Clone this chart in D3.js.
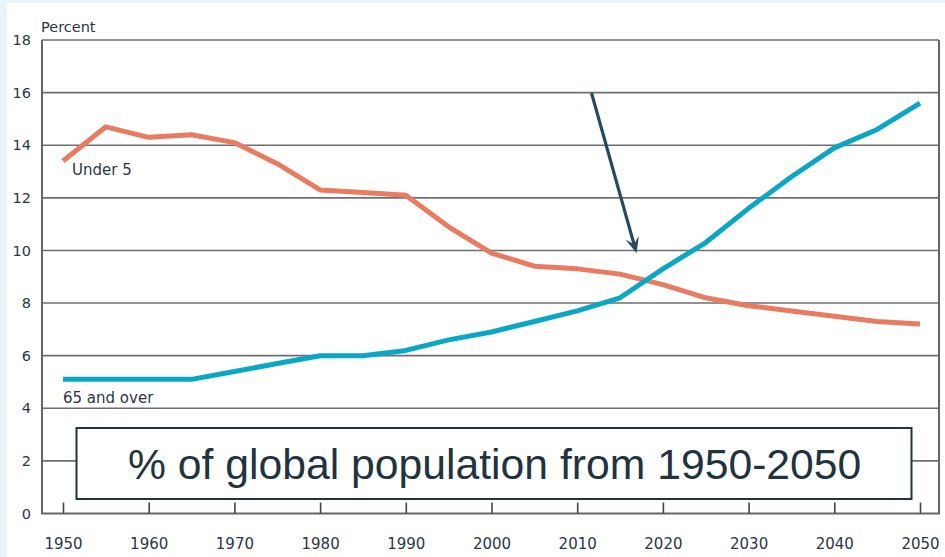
<!DOCTYPE html>
<html>
<head>
<meta charset="utf-8">
<script src="https://cdn.jsdelivr.net/npm/d3@7"></script>
<style>
  html, body { margin: 0; padding: 0; background: #ffffff; }
  svg { display: block; }
</style>
</head>
<body>
<svg id="chart" width="945" height="557"></svg>
<script>
// Years sampled every five years
const years = [1950, 1955, 1960, 1965, 1970, 1975, 1980, 1985, 1990, 1995, 2000,
               2005, 2010, 2015, 2020, 2025, 2030, 2035, 2040, 2045, 2050];
// Share of global population (percent)
const under5 = [13.4, 14.7, 14.3, 14.4, 14.1, 13.3, 12.3, 12.2, 12.1, 10.9, 9.9,
                9.4, 9.3, 9.1, 8.7, 8.2, 7.9, 7.7, 7.5, 7.3, 7.2];
const over65 = [5.1, 5.1, 5.1, 5.1, 5.4, 5.7, 6.0, 6.0, 6.2, 6.6, 6.9,
                7.3, 7.7, 8.2, 9.3, 10.3, 11.6, 12.8, 13.9, 14.6, 15.6];
const xTicks = [1950, 1960, 1970, 1980, 1990, 2000, 2010, 2020, 2030, 2040, 2050];
const yTicks = [0, 2, 4, 6, 8, 10, 12, 14, 16, 18];
const seriesNames = ["Under 5", "65 and over"];
const title = "% of global population from 1950-2050";

const svg = d3.select("#chart");
const W = 945, H = 557;

// page background with a pale band on the top and left
svg.append("rect").attr("width", W).attr("height", H).attr("fill", "#e9f4fa");
svg.append("rect").attr("x", 7).attr("y", 3).attr("width", W - 7).attr("height", H - 3).attr("fill", "#ffffff");

const plot = { left: 42, right: 939, top: 40, bottom: 513.5 };
const x = d3.scaleLinear().domain([1950, 2050]).range([63, 920]);
const y = d3.scaleLinear().domain([0, 18]).range([plot.bottom, plot.top]);

const textColor = "#2b3744";
const labelFont = "'DejaVu Sans', Verdana, sans-serif";

// horizontal grid lines
svg.append("g").selectAll("line")
  .data(yTicks.filter(d => d > 0))
  .join("line")
  .attr("x1", plot.left).attr("x2", plot.right)
  .attr("y1", d => y(d)).attr("y2", d => y(d))
  .attr("stroke", "#6f6f6f").attr("stroke-width", 1.6);

// frame: left, bottom, right
const frame = svg.append("g").attr("stroke", "#666").attr("stroke-width", 2).attr("fill", "none");
frame.append("path").attr("d", `M${plot.left},${plot.top}V${plot.bottom}H${plot.right}V${plot.top}`);

// y axis labels
const yAxis = d3.axisLeft(y).tickValues(yTicks).tickSize(0).tickPadding(0);
const gy = svg.append("g").attr("transform", "translate(31,0)").call(yAxis);
gy.select(".domain").remove();
gy.selectAll("text")
  .attr("font-family", labelFont).attr("font-size", 14.5)
  .attr("fill", textColor).attr("x", 0);

// x axis: short upward ticks and year labels
const gx = svg.append("g").attr("transform", `translate(0,${plot.bottom})`)
  .call(d3.axisBottom(x).tickValues(xTicks).tickFormat(d3.format("d")).tickSize(-11).tickPadding(0));
gx.select(".domain").remove();
gx.selectAll(".tick line").attr("stroke", "#444").attr("stroke-width", 1.6);
gx.selectAll("text")
  .attr("font-family", labelFont).attr("font-size", 15)
  .attr("fill", textColor).attr("y", 25);

// "Percent" unit label
svg.append("text").attr("x", 41).attr("y", 31.5)
  .attr("font-family", labelFont).attr("font-size", 14.5)
  .attr("fill", textColor).text("Percent");

// series lines
const line = d3.line().x((d, i) => x(years[i])).y(d => y(d));
svg.append("path").datum(under5)
  .attr("d", line).attr("fill", "none")
  .attr("stroke", "#e87b60").attr("stroke-width", 5).attr("stroke-linejoin", "round");
svg.append("path").datum(over65)
  .attr("d", line).attr("fill", "none")
  .attr("stroke", "#0aa6c5").attr("stroke-width", 5).attr("stroke-linejoin", "round");

// series labels
svg.append("text").attr("x", 72).attr("y", 175)
  .attr("font-family", labelFont).attr("font-size", 15)
  .attr("fill", textColor).text(seriesNames[0]);
svg.append("text").attr("x", 63).attr("y", 402.5)
  .attr("font-family", labelFont).attr("font-size", 15)
  .attr("fill", textColor).text(seriesNames[1]);

// arrow pointing at the crossover
const arrowColor = "#264a5d";
const a0 = [591.5, 93], a1 = [636.5, 253];
const ang = Math.atan2(a1[1] - a0[1], a1[0] - a0[0]);
const headLen = 16, headHalf = 7, notch = 9;
const ux = Math.cos(ang), uy = Math.sin(ang), px = -uy, py = ux;
svg.append("line")
  .attr("x1", a0[0]).attr("y1", a0[1])
  .attr("x2", a1[0] - ux * notch).attr("y2", a1[1] - uy * notch)
  .attr("stroke", arrowColor).attr("stroke-width", 3.2);
const head = [
  a1,
  [a1[0] - ux * headLen + px * headHalf, a1[1] - uy * headLen + py * headHalf],
  [a1[0] - ux * notch, a1[1] - uy * notch],
  [a1[0] - ux * headLen - px * headHalf, a1[1] - uy * headLen - py * headHalf]
];
svg.append("path").attr("d", "M" + head.map(p => p.join(",")).join("L") + "Z")
  .attr("fill", arrowColor);

// title box
svg.append("rect").attr("x", 76.5).attr("y", 428).attr("width", 835).attr("height", 71)
  .attr("fill", "#ffffff").attr("stroke", "#1f3341").attr("stroke-width", 2);
svg.append("text").attr("x", 128).attr("y", 479)
  .attr("font-family", "'Liberation Sans', Arial, sans-serif").attr("font-size", 42.7)
  .attr("fill", "#1f3341").text(title);
</script>
</body>
</html>
